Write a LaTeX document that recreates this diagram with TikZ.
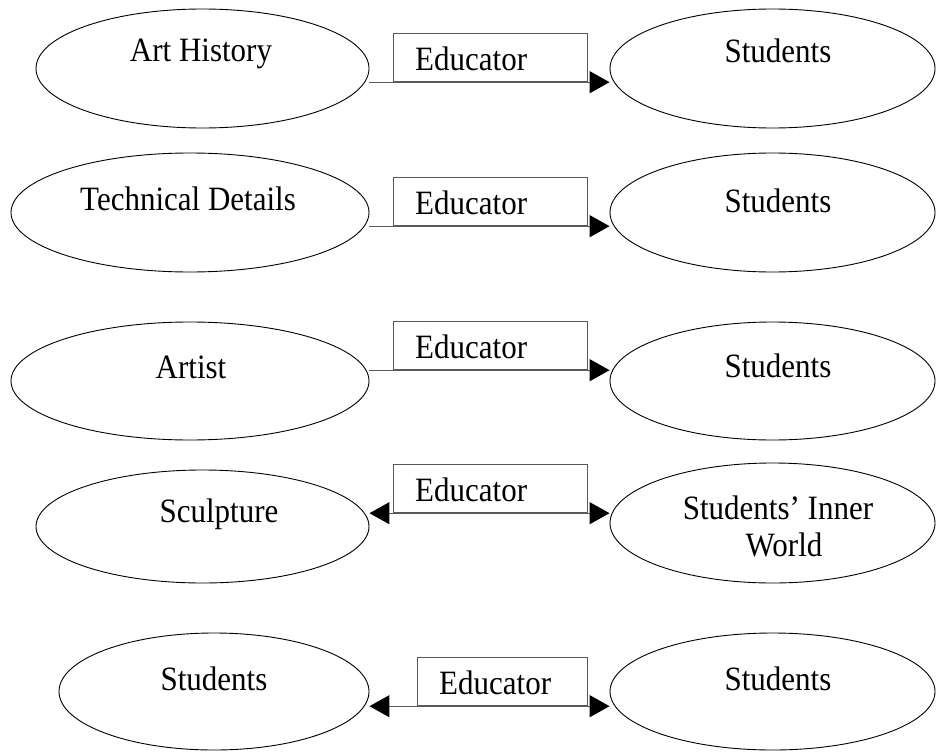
\documentclass[tikz,border=0pt]{standalone}
\usepackage{fontspec}
\usepackage{graphicx}
\setmainfont{Liberation Serif}
\usetikzlibrary{shapes.geometric,arrows.meta}
\newcommand{\tallt}[1]{\scalebox{1}[1.1]{#1}}
\begin{document}
\begin{tikzpicture}[x=1pt,y=-1pt,
  ell/.style={draw=black,line width=0.9pt,ellipse,inner sep=0pt},
  edbox/.style={draw=black!65,line width=1.2pt,rectangle,inner sep=0pt,anchor=north west,minimum height=48pt},
  txt/.style={font=\fontsize{31}{36}\selectfont,anchor=base,inner sep=0pt},
  conn/.style={draw=black!65,line width=1.2pt},
  onetip/.style={-{Triangle[length=20pt,width=22pt,color=black]}},
  twotips/.style={{Triangle[length=20pt,width=22pt,color=black]}-{Triangle[length=20pt,width=22pt,color=black]}}
]
\useasboundingbox (0,0) rectangle (937,752);

% Row 1
\node[ell,minimum width=333pt,minimum height=119pt] (L1) at (202.5,68.5) {};
\node[ell,minimum width=325pt,minimum height=119pt] (R1) at (772.5,68.5) {};
\node[edbox,minimum width=194pt] (E1) at (393,33) {};
\node[txt,anchor=base west] (T1) at ([xshift=22pt,yshift=12pt]E1.south west) {\tallt{Educator}};
\node[txt] (A1) at (201,62) {\tallt{Art History}};
\node[txt] (B1) at (778,63) {\tallt{Students}};
\draw[conn,onetip] (L1.east |- E1.south) -- (R1.west |- E1.south);

% Row 2
\node[ell,minimum width=358pt,minimum height=119pt] (L2) at (190,212.5) {};
\node[ell,minimum width=325pt,minimum height=119pt] (R2) at (772.5,212.5) {};
\node[edbox,minimum width=194pt] (E2) at (393,177) {};
\node[txt,anchor=base west] (T2) at ([xshift=22pt,yshift=12pt]E2.south west) {\tallt{Educator}};
\node[txt] (A2) at (188,210) {\tallt{Technical Details}};
\node[txt] (B2) at (778,212) {\tallt{Students}};
\draw[conn,onetip] (L2.east |- E2.south) -- (R2.west |- E2.south);

% Row 3
\node[ell,minimum width=358pt,minimum height=118pt] (L3) at (190,381) {};
\node[ell,minimum width=325pt,minimum height=118pt] (R3) at (772.5,381) {};
\node[edbox,minimum width=194pt] (E3) at (393,321) {};
\node[txt,anchor=base west] (T3) at ([xshift=22pt,yshift=12pt]E3.south west) {\tallt{Educator}};
\node[txt] (A3) at (191,378) {\tallt{Artist}};
\node[txt] (B3) at (778,377) {\tallt{Students}};
\draw[conn,onetip] (L3.east |- E3.south) -- (R3.west |- E3.south);

% Row 4
\node[ell,minimum width=333pt,minimum height=113pt] (L4) at (202.5,526.5) {};
\node[ell,minimum width=325pt,minimum height=120pt] (R4) at (772.5,523) {};
\node[edbox,minimum width=194pt] (E4) at (393,464) {};
\node[txt,anchor=base west] (T4) at ([xshift=22pt,yshift=12pt]E4.south west) {\tallt{Educator}};
\node[txt] (A4) at (219,522) {\tallt{Sculpture}};
\node[txt] (B4) at (778,519) {\tallt{Students’ Inner}};
\node[txt] (C4) at (784,556) {\tallt{World}};
\draw[conn,twotips] (L4.east |- E4.south) -- (R4.west |- E4.south);

% Row 5
\node[ell,minimum width=310pt,minimum height=117pt] (L5) at (214,691.5) {};
\node[ell,minimum width=325pt,minimum height=117pt] (R5) at (772.5,691.5) {};
\node[edbox,minimum width=170pt] (E5) at (417,657) {};
\node[txt,anchor=base west] (T5) at ([xshift=22pt,yshift=12pt]E5.south west) {\tallt{Educator}};
\node[txt] (A5) at (214,690) {\tallt{Students}};
\node[txt] (B5) at (778,690) {\tallt{Students}};
\draw[conn,twotips] (L5.east |- E5.south) -- (R5.west |- E5.south);
\end{tikzpicture}
\end{document}
